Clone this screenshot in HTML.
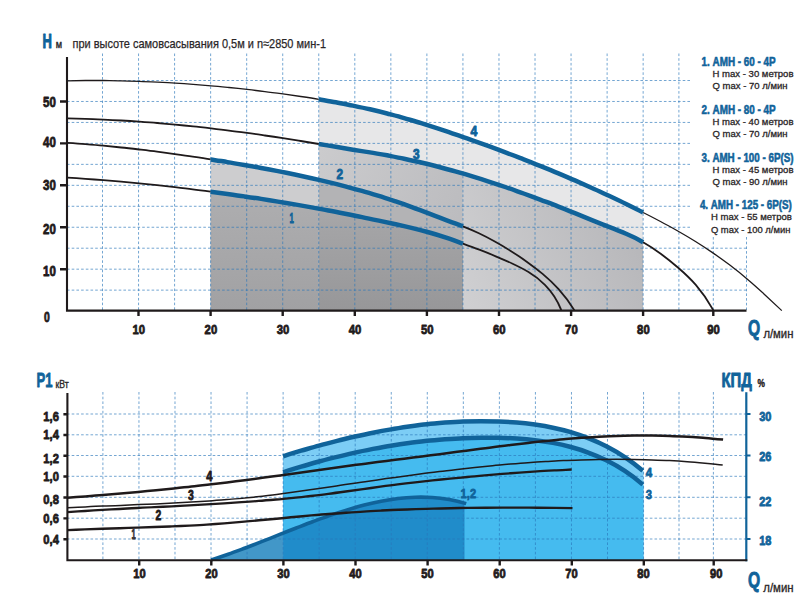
<!DOCTYPE html>
<html><head><meta charset="utf-8"><title>chart</title>
<style>html,body{margin:0;padding:0;background:#fff}svg{display:block}</style>
</head><body>
<svg width="805" height="599" viewBox="0 0 805 599" font-family="'Liberation Sans', sans-serif">
<rect width="805" height="599" fill="#fff"/>
<defs><linearGradient id="gB1" gradientUnits="userSpaceOnUse" x1="0" y1="192" x2="0" y2="310"><stop offset="0" stop-color="#aeaeb0"/><stop offset="1" stop-color="#a1a1a3"/></linearGradient><linearGradient id="gB2" gradientUnits="userSpaceOnUse" x1="0" y1="208" x2="0" y2="310"><stop offset="0" stop-color="#a7a7a9"/><stop offset="1" stop-color="#979799"/></linearGradient><linearGradient id="gC" gradientUnits="userSpaceOnUse" x1="470" y1="310" x2="640" y2="235"><stop offset="0" stop-color="#cfcfd1"/><stop offset="1" stop-color="#b7b7ba"/></linearGradient><linearGradient id="gC0" gradientUnits="userSpaceOnUse" x1="320" y1="150" x2="460" y2="215"><stop offset="0" stop-color="#cbcbcd"/><stop offset="1" stop-color="#bcbcbf"/></linearGradient></defs>
<path d="M318.8 99.3C324.5 100.3 330.1 101.2 335.8 102.3C341.5 103.3 347.2 104.5 352.9 105.6C358.6 106.8 364.3 108.0 370.0 109.3C375.7 110.6 381.4 112.0 387.1 113.5C392.7 115.0 398.4 116.5 404.1 118.1C409.8 119.8 415.5 121.4 421.2 123.2C426.9 125.0 432.6 126.8 438.3 128.6C444.0 130.5 449.7 132.4 455.3 134.4C461.0 136.3 466.7 138.3 472.4 140.3C478.1 142.3 483.8 144.4 489.5 146.4C495.2 148.5 500.9 150.6 506.6 152.8C512.3 154.9 517.9 157.1 523.6 159.3C529.3 161.5 535.0 163.8 540.7 166.1C546.4 168.4 552.1 170.7 557.8 173.1C563.5 175.5 569.2 177.9 574.9 180.4C580.5 182.9 586.2 185.4 591.9 188.0C597.6 190.5 603.3 193.2 609.0 195.8C614.7 198.5 620.4 201.2 626.1 204.0C631.8 206.8 637.5 209.6 643.1 212.5L643.1 310.6 L318.8 310.6 Z" fill="#e7e7e8" />
<path d="M318.8 144.0C324.1 144.9 329.4 145.8 334.8 146.7C340.1 147.6 345.5 148.4 350.8 149.3C356.1 150.2 361.5 151.0 366.8 151.9C372.2 152.8 377.5 153.7 382.8 154.6C388.2 155.5 393.5 156.5 398.9 157.6C404.2 158.7 409.5 159.8 414.9 161.0C420.2 162.2 425.6 163.5 430.9 164.8C436.2 166.2 441.6 167.5 446.9 169.0C452.3 170.5 457.6 172.0 462.9 173.5L462.9 310.6 L318.8 310.6 Z" fill="url(#gC0)" />
<path d="M462.9 173.5C468.4 175.1 473.9 176.8 479.3 178.5C484.8 180.2 490.2 182.0 495.7 183.8C501.2 185.6 506.6 187.5 512.1 189.4C517.5 191.3 523.0 193.3 528.5 195.3C533.9 197.3 539.4 199.3 544.8 201.4C550.3 203.5 555.8 205.6 561.2 207.7C566.7 209.9 572.2 212.1 577.6 214.3C583.1 216.5 588.5 218.7 594.0 220.9C599.5 223.1 604.9 225.3 610.4 227.4C615.8 229.6 621.3 231.7 626.8 234.1C632.2 236.5 637.7 239.1 643.1 242.2L643.1 310.6 L462.9 310.6 Z" fill="url(#gC)" />
<path d="M210.6 159.4C215.8 160.2 220.9 161.0 226.1 161.9C231.2 162.7 236.4 163.6 241.5 164.5C246.7 165.4 251.8 166.3 257.0 167.2C262.1 168.1 267.3 169.1 272.4 170.1C277.6 171.1 282.7 172.1 287.9 173.1C293.0 174.2 298.2 175.2 303.3 176.3C308.5 177.5 313.6 178.6 318.8 179.8L318.8 310.6 L210.6 310.6 Z" fill="#cdcdcf" />
<path d="M318.8 179.8C324.1 181.0 329.4 182.3 334.8 183.6C340.1 185.0 345.5 186.4 350.8 187.8C356.1 189.2 361.5 190.7 366.8 192.3C372.2 193.9 377.5 195.5 382.8 197.2C388.2 198.9 393.5 200.6 398.9 202.4C404.2 204.3 409.5 206.2 414.9 208.2C420.2 210.1 425.6 212.2 430.9 214.4C436.2 216.5 441.6 218.5 446.9 220.5C452.3 222.4 457.6 224.3 462.9 226.4L462.9 310.6 L318.8 310.6 Z" fill="#b3b3b5" />
<path d="M210.6 191.7C215.8 192.3 220.9 193.0 226.1 193.7C231.2 194.5 236.4 195.2 241.5 196.0C246.7 196.7 251.8 197.5 257.0 198.3C262.1 199.1 267.3 199.9 272.4 200.7C277.6 201.5 282.7 202.4 287.9 203.3C293.0 204.1 298.2 205.0 303.3 205.9C308.5 206.8 313.6 207.8 318.8 208.7L318.8 310.6 L210.6 310.6 Z" fill="url(#gB1)" />
<path d="M318.8 208.7C324.1 209.7 329.4 210.7 334.8 211.7C340.1 212.7 345.5 213.8 350.8 214.8C356.1 215.9 361.5 217.0 366.8 218.1C372.2 219.2 377.5 220.3 382.8 221.4C388.2 222.6 393.5 223.7 398.9 224.9C404.2 226.1 409.5 227.3 414.9 228.7C420.2 230.0 425.6 231.4 430.9 232.9C436.2 234.5 441.6 236.1 446.9 237.9C452.3 239.7 457.6 241.7 462.9 243.6L462.9 310.6 L318.8 310.6 Z" fill="url(#gB2)" />
<path d="M283.1 456.3C288.8 454.4 294.6 452.7 300.3 451.0C306.0 449.3 311.7 447.6 317.4 446.0C323.2 444.5 328.9 442.9 334.6 441.5C340.3 440.0 346.1 438.6 351.8 437.3C357.5 436.0 363.2 434.7 368.9 433.5C374.7 432.4 380.4 431.3 386.1 430.2C391.8 429.2 397.5 428.3 403.3 427.4C409.0 426.5 414.7 425.7 420.4 425.0C426.1 424.4 431.9 423.7 437.6 423.2C443.3 422.7 449.0 422.3 454.8 422.0C460.5 421.7 466.2 421.4 471.9 421.3C477.6 421.2 483.4 421.2 489.1 421.2C494.8 421.3 500.5 421.5 506.2 421.8C512.0 422.1 517.7 422.5 523.4 423.1C529.1 423.7 534.8 424.4 540.6 425.4C546.3 426.3 552.0 427.4 557.7 428.7C563.5 430.1 569.2 431.6 574.9 433.5C580.6 435.3 586.3 437.3 592.1 439.7C597.8 442.1 603.5 444.7 609.2 447.8C614.9 450.8 620.7 454.2 626.4 458.1C632.1 462.0 637.8 466.4 643.5 471.3L643.5 560.0 L283.1 560.0 Z" fill="#7ccdf5" />
<path d="M283.1 472.3C288.8 470.4 294.6 468.7 300.3 466.9C306.0 465.2 311.7 463.6 317.4 462.0C323.2 460.4 328.9 458.9 334.6 457.5C340.3 456.0 346.1 454.7 351.8 453.4C357.5 452.1 363.2 450.9 368.9 449.7C374.7 448.6 380.4 447.5 386.1 446.5C391.8 445.6 397.5 444.6 403.3 443.8C409.0 443.0 414.7 442.2 420.4 441.6C426.1 440.9 431.9 440.3 437.6 439.8C443.3 439.3 449.0 438.9 454.8 438.6C460.5 438.2 466.2 438.0 471.9 437.9C477.6 437.7 483.4 437.6 489.1 437.7C494.8 437.7 500.5 437.8 506.2 438.0C512.0 438.2 517.7 438.5 523.4 439.0C529.1 439.5 534.8 440.1 540.6 440.9C546.3 441.7 552.0 442.7 557.7 443.9C563.5 445.1 569.2 446.5 574.9 448.2C580.6 449.8 586.3 451.8 592.1 454.0C597.8 456.2 603.5 458.8 609.2 461.7C614.9 464.7 620.7 468.0 626.4 471.9C632.1 475.8 637.8 480.2 643.5 485.3L643.5 560.0 L283.1 560.0 Z" fill="#45bbef" />
<path d="M211.0 560.0C215.8 558.4 220.6 556.8 225.4 555.2C230.3 553.5 235.1 551.7 239.9 550.0C244.7 548.2 249.5 546.3 254.3 544.5C259.1 542.6 263.9 540.7 268.7 538.8C273.5 536.9 278.3 535.0 283.1 533.1L283.1 560.0 L211.0 560.0 Z" fill="#4297c8" />
<path d="M283.1 533.1C288.6 530.9 294.1 528.8 299.6 526.7C305.1 524.5 310.6 522.4 316.1 520.4C321.6 518.4 327.1 516.4 332.6 514.6C338.1 512.7 343.6 510.9 349.1 509.3C354.6 507.6 360.1 506.1 365.6 504.7C371.1 503.3 376.6 502.1 382.1 501.0C387.6 500.0 393.1 499.1 398.6 498.5C404.1 497.8 409.6 497.4 415.1 497.2C420.6 497.0 426.1 497.1 431.5 497.4C437.0 497.8 442.5 498.4 448.0 499.3C453.5 500.2 459.0 501.5 464.5 503.1L464.5 560.0 L283.1 560.0 Z" fill="#208cca" />
<path d="M102.50 53.5V310.0M102.90 392.0V560.0M138.55 53.5V310.0M138.95 392.0V560.0M174.59 53.5V310.0M174.99 392.0V560.0M210.63 53.5V310.0M211.03 392.0V560.0M246.68 53.5V310.0M247.07 392.0V560.0M282.72 53.5V310.0M283.12 392.0V560.0M318.76 53.5V310.0M319.16 392.0V560.0M354.80 53.5V310.0M355.20 392.0V560.0M390.85 53.5V310.0M391.25 392.0V560.0M426.89 53.5V310.0M427.29 392.0V560.0M462.93 53.5V310.0M463.33 392.0V560.0M498.98 53.5V310.0M499.38 392.0V560.0M535.02 53.5V310.0M535.42 392.0V560.0M571.06 53.5V310.0M571.46 392.0V560.0M607.11 53.5V310.0M607.50 392.0V560.0M643.15 53.5V310.0M643.55 392.0V560.0M678.90 53.5V310.0M679.00 392.0V560.0M713.30 237.0V310.0M713.40 392.0V560.0M746.50 237.0V310.0M67.0 290.14H746.5M67.0 269.18H746.5M67.0 248.21H746.5M67.0 227.25H691.0M67.0 206.29H691.0M67.0 185.33H691.0M67.0 164.36H691.0M67.0 143.40H691.0M67.0 122.44H691.0M67.0 101.48H691.0M67.0 80.51H691.0M67.0 414.00H746.0M67.0 434.80H746.0M67.0 455.50H746.0M67.0 476.30H746.0M67.0 497.30H746.0M67.0 518.20H746.0M67.0 539.00H746.0" fill="none" stroke="#2a76ba" stroke-width="0.8" stroke-dasharray="2.6 2.1" opacity="0.82"/>
<path d="M67.5 80.8C73.5 80.7 79.5 80.6 85.4 80.5C91.4 80.5 97.4 80.5 103.4 80.5C109.4 80.6 115.4 80.6 121.3 80.8C127.3 80.9 133.3 81.1 139.3 81.3C145.3 81.5 151.3 81.8 157.2 82.1C163.2 82.4 169.2 82.7 175.2 83.1C181.2 83.5 187.1 83.9 193.1 84.3C199.1 84.8 205.1 85.3 211.1 85.8C217.1 86.3 223.0 86.9 229.0 87.5C235.0 88.1 241.0 88.8 247.0 89.4C253.0 90.1 258.9 90.8 264.9 91.6C270.9 92.3 276.9 93.1 282.9 93.9C288.8 94.7 294.8 95.6 300.8 96.5C306.8 97.4 312.8 98.3 318.8 99.3" fill="none" stroke="#1f1a1b" stroke-width="1.3" stroke-linecap="butt"/>
<path d="M643.1 212.5C648.9 215.4 654.7 218.4 660.5 221.5C666.3 224.5 672.0 227.7 677.8 231.0C683.6 234.3 689.4 237.7 695.1 241.3C700.9 244.9 706.7 248.7 712.5 252.6C718.3 256.6 724.0 260.7 729.8 265.1C735.6 269.5 741.4 274.1 747.1 279.0C752.9 283.9 758.7 289.1 764.5 294.4C770.2 299.7 776.0 305.1 781.8 310.6" fill="none" stroke="#1f1a1b" stroke-width="1.3" stroke-linecap="butt"/>
<path d="M67.5 118.3C73.5 118.5 79.5 118.6 85.4 118.8C91.4 119.0 97.4 119.3 103.4 119.6C109.4 119.8 115.4 120.1 121.3 120.5C127.3 120.8 133.3 121.2 139.3 121.7C145.3 122.1 151.3 122.5 157.2 123.0C163.2 123.5 169.2 124.1 175.2 124.6C181.2 125.2 187.1 125.8 193.1 126.4C199.1 127.0 205.1 127.7 211.1 128.4C217.1 129.1 223.0 129.8 229.0 130.6C235.0 131.3 241.0 132.1 247.0 132.9C253.0 133.7 258.9 134.6 264.9 135.5C270.9 136.3 276.9 137.2 282.9 138.2C288.8 139.1 294.8 140.1 300.8 141.0C306.8 142.0 312.8 143.0 318.8 144.0" fill="none" stroke="#1f1a1b" stroke-width="1.8" stroke-linecap="butt"/>
<path d="M643.1 242.2C649.0 245.5 654.8 249.4 660.7 253.7C666.5 258.0 672.4 262.7 678.2 267.7C684.1 272.8 689.9 278.1 695.8 284.8C701.6 291.5 707.5 299.5 713.3 310.1" fill="none" stroke="#1f1a1b" stroke-width="1.8" stroke-linecap="butt"/>
<path d="M67.5 142.8C73.5 143.2 79.4 143.6 85.4 144.1C91.4 144.6 97.3 145.1 103.3 145.7C109.2 146.3 115.2 146.9 121.2 147.5C127.1 148.1 133.1 148.8 139.1 149.5C145.0 150.2 151.0 150.9 157.0 151.7C162.9 152.4 168.9 153.2 174.8 154.1C180.8 154.9 186.8 155.7 192.7 156.6C198.7 157.5 204.7 158.4 210.6 159.4" fill="none" stroke="#1f1a1b" stroke-width="1.8" stroke-linecap="butt"/>
<path d="M462.9 226.4C468.2 228.5 473.6 230.8 478.9 233.3C484.2 235.8 489.5 238.6 494.8 241.5C500.1 244.4 505.4 247.6 510.7 250.9C516.1 254.3 521.4 257.8 526.7 261.7C532.0 265.5 537.3 269.5 542.6 273.9C547.9 278.3 553.2 283.3 558.6 289.2C563.9 295.1 569.2 302.0 574.5 310.4" fill="none" stroke="#1f1a1b" stroke-width="1.8" stroke-linecap="butt"/>
<path d="M67.5 177.6C73.5 178.0 79.4 178.4 85.4 178.8C91.4 179.3 97.3 179.7 103.3 180.2C109.2 180.7 115.2 181.2 121.2 181.7C127.1 182.3 133.1 182.8 139.1 183.4C145.0 184.0 151.0 184.6 157.0 185.2C162.9 185.9 168.9 186.5 174.8 187.2C180.8 187.9 186.8 188.6 192.7 189.4C198.7 190.1 204.7 190.9 210.6 191.7" fill="none" stroke="#1f1a1b" stroke-width="1.8" stroke-linecap="butt"/>
<path d="M462.9 243.6C468.4 245.6 473.9 247.6 479.3 249.7C484.8 251.8 490.3 254.0 495.7 256.3C501.2 258.6 506.7 261.0 512.1 263.5C517.6 266.1 523.0 268.7 528.5 272.0C534.0 275.3 539.4 279.3 544.9 284.8C550.4 290.3 555.8 296.1 561.3 310.1" fill="none" stroke="#1f1a1b" stroke-width="1.8" stroke-linecap="butt"/>
<path d="M318.8 99.3C324.5 100.3 330.1 101.2 335.8 102.3C341.5 103.3 347.2 104.5 352.9 105.6C358.6 106.8 364.3 108.0 370.0 109.3C375.7 110.6 381.4 112.0 387.1 113.5C392.7 115.0 398.4 116.5 404.1 118.1C409.8 119.8 415.5 121.4 421.2 123.2C426.9 125.0 432.6 126.8 438.3 128.6C444.0 130.5 449.7 132.4 455.3 134.4C461.0 136.3 466.7 138.3 472.4 140.3C478.1 142.3 483.8 144.4 489.5 146.4C495.2 148.5 500.9 150.6 506.6 152.8C512.3 154.9 517.9 157.1 523.6 159.3C529.3 161.5 535.0 163.8 540.7 166.1C546.4 168.4 552.1 170.7 557.8 173.1C563.5 175.5 569.2 177.9 574.9 180.4C580.5 182.9 586.2 185.4 591.9 188.0C597.6 190.5 603.3 193.2 609.0 195.8C614.7 198.5 620.4 201.2 626.1 204.0C631.8 206.8 637.5 209.6 643.1 212.5" fill="none" stroke="#10639a" stroke-width="4.5" stroke-linecap="butt"/>
<path d="M318.8 144.0C324.5 144.9 330.1 145.9 335.8 146.8C341.5 147.8 347.2 148.7 352.9 149.7C358.6 150.6 364.3 151.5 370.0 152.4C375.7 153.3 381.4 154.3 387.1 155.3C392.7 156.4 398.4 157.5 404.1 158.7C409.8 159.9 415.5 161.1 421.2 162.5C426.9 163.8 432.6 165.2 438.3 166.7C444.0 168.2 449.7 169.7 455.3 171.4C461.0 173.0 466.7 174.6 472.4 176.4C478.1 178.1 483.8 179.9 489.5 181.8C495.2 183.6 500.9 185.5 506.6 187.5C512.3 189.4 517.9 191.5 523.6 193.5C529.3 195.6 535.0 197.7 540.7 199.8C546.4 202.0 552.1 204.1 557.8 206.4C563.5 208.6 569.2 210.9 574.9 213.2C580.5 215.5 586.2 217.8 591.9 220.1C597.6 222.4 603.3 224.7 609.0 226.9C614.7 229.1 620.4 231.3 626.1 233.8C631.8 236.2 637.5 238.9 643.1 242.2" fill="none" stroke="#10639a" stroke-width="4.5" stroke-linecap="butt"/>
<path d="M210.6 159.4C216.2 160.2 221.8 161.2 227.5 162.1C233.1 163.0 238.7 164.0 244.3 165.0C249.9 165.9 255.5 166.9 261.1 168.0C266.7 169.0 272.3 170.1 277.9 171.1C283.5 172.2 289.1 173.4 294.7 174.5C300.3 175.7 305.9 176.9 311.6 178.2C317.2 179.4 322.8 180.7 328.4 182.1C334.0 183.4 339.6 184.8 345.2 186.3C350.8 187.8 356.4 189.3 362.0 190.9C367.6 192.5 373.2 194.2 378.8 195.9C384.4 197.6 390.0 199.5 395.7 201.4C401.3 203.2 406.9 205.2 412.5 207.3C418.1 209.3 423.7 211.5 429.3 213.7C434.9 215.9 440.5 218.1 446.1 220.2C451.7 222.2 457.3 224.2 462.9 226.4" fill="none" stroke="#10639a" stroke-width="4.5" stroke-linecap="butt"/>
<path d="M210.6 191.7C216.2 192.4 221.8 193.2 227.5 193.9C233.1 194.7 238.7 195.5 244.3 196.4C249.9 197.2 255.5 198.0 261.1 198.9C266.7 199.8 272.3 200.7 277.9 201.6C283.5 202.5 289.1 203.5 294.7 204.4C300.3 205.4 305.9 206.4 311.6 207.4C317.2 208.4 322.8 209.4 328.4 210.5C334.0 211.5 339.6 212.6 345.2 213.7C350.8 214.8 356.4 215.9 362.0 217.1C367.6 218.2 373.2 219.4 378.8 220.6C384.4 221.8 390.0 223.0 395.7 224.2C401.3 225.4 406.9 226.7 412.5 228.1C418.1 229.4 423.7 230.9 429.3 232.5C434.9 234.0 440.5 235.8 446.1 237.7C451.7 239.5 457.3 241.6 462.9 243.6" fill="none" stroke="#10639a" stroke-width="4.5" stroke-linecap="butt"/>
<path d="M283.1 456.3C289.1 454.4 295.1 452.5 301.1 450.7C307.1 449.0 313.1 447.2 319.1 445.6C325.1 443.9 331.1 442.4 337.1 440.9C343.1 439.3 349.1 437.9 355.1 436.5C361.0 435.2 367.0 433.9 373.0 432.7C379.0 431.5 385.0 430.4 391.0 429.4C397.0 428.3 403.0 427.4 409.0 426.5C415.0 425.7 421.0 424.9 427.0 424.3C433.0 423.6 439.0 423.1 445.0 422.6C451.0 422.2 457.0 421.8 463.0 421.6C469.0 421.3 474.9 421.2 480.9 421.2C486.9 421.2 492.9 421.3 498.9 421.5C504.9 421.7 510.9 422.0 516.9 422.5C522.9 423.0 528.9 423.7 534.9 424.5C540.9 425.4 546.9 426.4 552.9 427.7C558.9 428.9 564.9 430.4 570.9 432.2C576.9 434.0 582.9 436.1 588.8 438.4C594.8 440.8 600.8 443.4 606.8 446.5C612.8 449.6 618.8 453.1 624.8 457.1C630.8 461.1 636.8 465.6 642.8 470.7" fill="none" stroke="#10639a" stroke-width="4.5" stroke-linecap="butt"/>
<path d="M283.1 472.3C289.1 470.4 295.1 468.5 301.1 466.7C307.1 464.9 313.1 463.2 319.1 461.5C325.1 459.9 331.1 458.3 337.1 456.9C343.1 455.4 349.1 454.0 355.1 452.6C361.0 451.3 367.0 450.1 373.0 448.9C379.0 447.8 385.0 446.7 391.0 445.7C397.0 444.7 403.0 443.8 409.0 443.0C415.0 442.2 421.0 441.5 427.0 440.8C433.0 440.2 439.0 439.7 445.0 439.2C451.0 438.8 457.0 438.4 463.0 438.2C469.0 437.9 474.9 437.7 480.9 437.7C486.9 437.6 492.9 437.7 498.9 437.8C504.9 437.9 510.9 438.2 516.9 438.5C522.9 438.9 528.9 439.4 534.9 440.2C540.9 440.9 546.9 441.8 552.9 442.9C558.9 444.0 564.9 445.4 570.9 447.0C576.9 448.6 582.9 450.5 588.8 452.8C594.8 455.0 600.8 457.5 606.8 460.5C612.8 463.5 618.8 466.9 624.8 470.9C630.8 474.8 636.8 479.4 642.8 484.6" fill="none" stroke="#10639a" stroke-width="4.5" stroke-linecap="butt"/>
<path d="M211.2 559.9C216.9 558.1 222.5 556.2 228.2 554.2C233.9 552.2 239.5 550.1 245.2 548.0C250.9 545.8 256.5 543.6 262.2 541.4C267.9 539.2 273.5 536.9 279.2 534.7C284.9 532.4 290.5 530.2 296.2 528.0C301.9 525.8 307.5 523.6 313.2 521.5C318.9 519.4 324.5 517.3 330.2 515.4C335.9 513.4 341.5 511.6 347.2 509.9C352.9 508.1 358.5 506.5 364.2 505.1C369.9 503.6 375.5 502.3 381.2 501.2C386.9 500.1 392.5 499.2 398.2 498.5C403.9 497.8 409.5 497.4 415.2 497.2C420.9 497.0 426.5 497.1 432.2 497.5C437.9 497.8 443.5 498.5 449.2 499.5C454.9 500.5 460.5 501.9 466.2 503.6" fill="none" stroke="#10639a" stroke-width="3.6" stroke-linecap="butt"/>
<path d="M67.5 497.7C73.4 497.3 79.3 496.8 85.2 496.4C91.1 495.9 97.0 495.4 102.9 495.0C108.8 494.5 114.8 494.0 120.7 493.5C126.6 493.0 132.5 492.4 138.4 491.9C144.3 491.3 150.2 490.8 156.1 490.2C162.0 489.6 167.9 489.0 173.8 488.4C179.7 487.8 185.6 487.2 191.5 486.5C197.4 485.9 203.3 485.2 209.3 484.5C215.2 483.8 221.1 483.1 227.0 482.4C232.9 481.7 238.8 480.9 244.7 480.2C250.6 479.4 256.5 478.6 262.4 477.8C268.3 477.0 274.2 476.2 280.1 475.4C286.0 474.6 291.9 473.7 297.8 472.9C303.8 472.1 309.7 471.2 315.6 470.4C321.5 469.6 327.4 468.7 333.3 467.9C339.2 467.1 345.1 466.3 351.0 465.5C356.9 464.7 362.8 463.9 368.7 463.2C374.6 462.4 380.5 461.7 386.4 460.9C392.3 460.2 398.3 459.4 404.2 458.7C410.1 457.9 416.0 457.2 421.9 456.4C427.8 455.7 433.7 454.9 439.6 454.2C445.5 453.4 451.4 452.6 457.3 451.8C463.2 451.0 469.1 450.3 475.0 449.5C480.9 448.7 486.8 447.9 492.8 447.2C498.7 446.4 504.6 445.7 510.5 445.0C516.4 444.2 522.3 443.5 528.2 442.9C534.1 442.2 540.0 441.6 545.9 441.0C551.8 440.4 557.7 439.8 563.6 439.3C569.5 438.7 575.4 438.3 581.3 437.8C587.3 437.4 593.2 437.0 599.1 436.7C605.0 436.4 610.9 436.1 616.8 435.9C622.7 435.7 628.6 435.6 634.5 435.5C640.4 435.4 646.3 435.4 652.2 435.5C658.1 435.6 664.0 435.7 669.9 435.9C675.8 436.1 681.8 436.4 687.7 436.7C693.6 437.0 699.5 437.5 705.4 437.9C711.3 438.4 717.2 439.0 723.1 439.6" fill="none" stroke="#1f1a1b" stroke-width="2.5" stroke-linecap="butt"/>
<path d="M67.5 507.7C73.4 507.4 79.3 507.1 85.2 506.9C91.1 506.6 97.0 506.3 102.9 506.1C108.8 505.8 114.7 505.6 120.6 505.4C126.5 505.1 132.4 504.9 138.3 504.6C144.2 504.4 150.1 504.1 156.0 503.9C161.9 503.6 167.8 503.3 173.7 503.0C179.7 502.7 185.6 502.4 191.5 502.1C197.4 501.7 203.3 501.4 209.2 501.0C215.1 500.6 221.0 500.1 226.9 499.6C232.8 499.2 238.7 498.6 244.6 498.1C250.5 497.5 256.4 496.8 262.3 496.2C268.2 495.5 274.1 494.8 280.0 494.0C285.9 493.2 291.8 492.4 297.7 491.6C303.6 490.8 309.5 489.9 315.4 489.1C321.3 488.2 327.2 487.3 333.1 486.4C339.0 485.6 344.9 484.7 350.8 483.8C356.7 482.9 362.6 482.0 368.5 481.2C374.4 480.3 380.3 479.5 386.2 478.6C392.1 477.8 398.1 477.0 404.0 476.2C409.9 475.4 415.8 474.6 421.7 473.8C427.6 473.0 433.5 472.3 439.4 471.6C445.3 470.8 451.2 470.1 457.1 469.4C463.0 468.8 468.9 468.1 474.8 467.5C480.7 466.9 486.6 466.3 492.5 465.7C498.4 465.1 504.3 464.6 510.2 464.1C516.1 463.6 522.0 463.1 527.9 462.7C533.8 462.3 539.7 461.9 545.6 461.5C551.5 461.2 557.4 460.8 563.3 460.6C569.2 460.3 575.1 460.1 581.0 459.9C586.9 459.7 592.8 459.5 598.7 459.4C604.6 459.3 610.5 459.3 616.5 459.3C622.4 459.3 628.3 459.3 634.2 459.4C640.1 459.5 646.0 459.6 651.9 459.9C657.8 460.1 663.7 460.3 669.6 460.6C675.5 460.9 681.4 461.3 687.3 461.8C693.2 462.2 699.1 462.7 705.0 463.2C710.9 463.8 716.8 464.4 722.7 465.1" fill="none" stroke="#1f1a1b" stroke-width="1.5" stroke-linecap="butt"/>
<path d="M67.5 512.2C73.3 511.8 79.1 511.4 84.9 511.0C90.7 510.6 96.5 510.3 102.3 509.9C108.1 509.6 113.9 509.3 119.7 509.0C125.5 508.6 131.2 508.3 137.0 508.0C142.8 507.7 148.6 507.4 154.4 507.2C160.2 506.9 166.0 506.6 171.8 506.3C177.6 506.0 183.4 505.7 189.2 505.4C195.0 505.1 200.8 504.7 206.6 504.4C212.4 504.1 218.2 503.7 224.0 503.4C229.8 503.0 235.6 502.6 241.4 502.2C247.2 501.8 253.0 501.4 258.7 500.9C264.5 500.5 270.3 500.0 276.1 499.5C281.9 499.0 287.7 498.4 293.5 497.8C299.3 497.3 305.1 496.6 310.9 496.0C316.7 495.3 322.5 494.6 328.3 493.8C334.1 493.1 339.9 492.3 345.7 491.5C351.5 490.7 357.3 489.9 363.1 489.1C368.9 488.3 374.7 487.5 380.5 486.7C386.2 485.9 392.0 485.1 397.8 484.4C403.6 483.7 409.4 483.0 415.2 482.3C421.0 481.7 426.8 481.0 432.6 480.4C438.4 479.8 444.2 479.2 450.0 478.6C455.8 478.1 461.6 477.5 467.4 477.0C473.2 476.4 479.0 475.9 484.8 475.4C490.6 474.9 496.4 474.4 502.2 473.9C508.0 473.5 513.7 473.0 519.5 472.6C525.3 472.2 531.1 471.8 536.9 471.4C542.7 471.0 548.5 470.7 554.3 470.4C560.1 470.0 565.9 469.8 571.7 469.5" fill="none" stroke="#1f1a1b" stroke-width="2.3" stroke-linecap="butt"/>
<path d="M67.5 530.1C73.3 529.9 79.1 529.6 84.9 529.4C90.7 529.2 96.5 529.0 102.3 528.8C108.1 528.6 113.9 528.4 119.7 528.2C125.5 528.0 131.4 527.8 137.2 527.6C143.0 527.4 148.8 527.2 154.6 527.0C160.4 526.8 166.2 526.6 172.0 526.4C177.8 526.1 183.6 525.9 189.4 525.6C195.2 525.3 201.0 525.0 206.8 524.6C212.6 524.2 218.4 523.8 224.2 523.4C230.0 522.9 235.8 522.4 241.6 521.9C247.4 521.4 253.2 520.9 259.1 520.3C264.9 519.8 270.7 519.2 276.5 518.7C282.3 518.1 288.1 517.5 293.9 517.0C299.7 516.5 305.5 515.9 311.3 515.4C317.1 514.9 322.9 514.4 328.7 514.0C334.5 513.5 340.3 513.1 346.1 512.7C351.9 512.3 357.7 511.9 363.5 511.6C369.3 511.2 375.1 510.9 380.9 510.6C386.8 510.3 392.6 510.0 398.4 509.8C404.2 509.6 410.0 509.3 415.8 509.1C421.6 508.9 427.4 508.7 433.2 508.6C439.0 508.4 444.8 508.3 450.6 508.2C456.4 508.1 462.2 508.0 468.0 507.9C473.8 507.8 479.6 507.7 485.4 507.7C491.2 507.6 497.0 507.6 502.8 507.6C508.6 507.6 514.5 507.6 520.3 507.6C526.1 507.6 531.9 507.7 537.7 507.7C543.5 507.7 549.3 507.8 555.1 507.9C560.9 507.9 566.7 508.0 572.5 508.1" fill="none" stroke="#1f1a1b" stroke-width="2.4" stroke-linecap="butt"/>
<path d="M746.3 392.2V561.3" fill="none" stroke="#10639a" stroke-width="2.2"/>
<path d="M67 57V310.6H746.5" fill="none" stroke="#1f1a1b" stroke-width="2.1"/>
<path d="M67.4 393V560.3H747.3" fill="none" stroke="#1f1a1b" stroke-width="2.1"/>
<path d="M60 269.2H67M60 227.3H67M60 185.3H67M60 143.4H67M60 101.5H67M138.5 310V316M139.2 560V565.5M210.6 310V316M211.3 560V565.5M282.7 310V316M283.4 560V565.5M354.8 310V316M355.5 560V565.5M426.9 310V316M427.6 560V565.5M499.0 310V316M499.7 560V565.5M571.1 310V316M571.8 560V565.5M643.1 310V316M643.8 560V565.5M713.3 310V316M713.7 560V565.5M63.4 414.2H67M63.4 435.0H67M63.4 455.7H67M63.4 476.5H67M63.4 497.5H67M63.4 518.4H67M63.4 539.2H67" fill="none" stroke="#1f1a1b" stroke-width="2.4"/>
<path d="M746 414.0H750.5M746 455.5H750.5M746 497.3H750.5M746 539.0H750.5" fill="none" stroke="#10639a" stroke-width="2"/>
<text x="42.4" y="47.8" font-size="19.8" font-weight="bold" fill="#10639a" text-anchor="start" textLength="9.4" lengthAdjust="spacingAndGlyphs" stroke="#10639a" stroke-width="1.0" stroke-linejoin="round">Н</text>
<text x="55.8" y="47.7" font-size="10.5" font-weight="normal" fill="#2a2627" text-anchor="start" textLength="6.3" lengthAdjust="spacingAndGlyphs" stroke="#2a2627" stroke-width="0.4">м</text>
<text x="72.5" y="47.7" font-size="12.8" font-weight="normal" fill="#2a2627" text-anchor="start" textLength="253.5" lengthAdjust="spacingAndGlyphs" stroke="#2a2627" stroke-width="0.25">при высоте самовсасывания 0,5м и n≈2850 мин-1</text>
<text x="43.0" y="107.3" font-size="14" font-weight="bold" fill="#1f1a1b" text-anchor="start" textLength="12.8" lengthAdjust="spacingAndGlyphs" stroke="#1f1a1b" stroke-width="0.8" stroke-linejoin="round">50</text>
<text x="43.0" y="147.4" font-size="14" font-weight="bold" fill="#1f1a1b" text-anchor="start" textLength="12.8" lengthAdjust="spacingAndGlyphs" stroke="#1f1a1b" stroke-width="0.8" stroke-linejoin="round">40</text>
<text x="43.0" y="190.4" font-size="14" font-weight="bold" fill="#1f1a1b" text-anchor="start" textLength="12.8" lengthAdjust="spacingAndGlyphs" stroke="#1f1a1b" stroke-width="0.8" stroke-linejoin="round">30</text>
<text x="43.0" y="233.7" font-size="14" font-weight="bold" fill="#1f1a1b" text-anchor="start" textLength="12.8" lengthAdjust="spacingAndGlyphs" stroke="#1f1a1b" stroke-width="0.8" stroke-linejoin="round">20</text>
<text x="43.0" y="275.7" font-size="14" font-weight="bold" fill="#1f1a1b" text-anchor="start" textLength="12.8" lengthAdjust="spacingAndGlyphs" stroke="#1f1a1b" stroke-width="0.8" stroke-linejoin="round">10</text>
<text x="44.0" y="321.6" font-size="13.8" font-weight="bold" fill="#1f1a1b" text-anchor="start" textLength="5.8" lengthAdjust="spacingAndGlyphs" stroke="#1f1a1b" stroke-width="0.8" stroke-linejoin="round">0</text>
<text x="132.5" y="333.8" font-size="13.5" font-weight="bold" fill="#1f1a1b" text-anchor="start" textLength="12.6" lengthAdjust="spacingAndGlyphs" stroke="#1f1a1b" stroke-width="0.8" stroke-linejoin="round">10</text>
<text x="133.2" y="578.4" font-size="13" font-weight="bold" fill="#1f1a1b" text-anchor="start" textLength="12.4" lengthAdjust="spacingAndGlyphs" stroke="#1f1a1b" stroke-width="0.8" stroke-linejoin="round">10</text>
<text x="204.6" y="333.8" font-size="13.5" font-weight="bold" fill="#1f1a1b" text-anchor="start" textLength="12.6" lengthAdjust="spacingAndGlyphs" stroke="#1f1a1b" stroke-width="0.8" stroke-linejoin="round">20</text>
<text x="205.2" y="578.4" font-size="13" font-weight="bold" fill="#1f1a1b" text-anchor="start" textLength="12.4" lengthAdjust="spacingAndGlyphs" stroke="#1f1a1b" stroke-width="0.8" stroke-linejoin="round">20</text>
<text x="276.7" y="333.8" font-size="13.5" font-weight="bold" fill="#1f1a1b" text-anchor="start" textLength="12.6" lengthAdjust="spacingAndGlyphs" stroke="#1f1a1b" stroke-width="0.8" stroke-linejoin="round">30</text>
<text x="277.2" y="578.4" font-size="13" font-weight="bold" fill="#1f1a1b" text-anchor="start" textLength="12.4" lengthAdjust="spacingAndGlyphs" stroke="#1f1a1b" stroke-width="0.8" stroke-linejoin="round">30</text>
<text x="348.8" y="333.8" font-size="13.5" font-weight="bold" fill="#1f1a1b" text-anchor="start" textLength="12.6" lengthAdjust="spacingAndGlyphs" stroke="#1f1a1b" stroke-width="0.8" stroke-linejoin="round">40</text>
<text x="349.2" y="578.4" font-size="13" font-weight="bold" fill="#1f1a1b" text-anchor="start" textLength="12.4" lengthAdjust="spacingAndGlyphs" stroke="#1f1a1b" stroke-width="0.8" stroke-linejoin="round">40</text>
<text x="420.9" y="333.8" font-size="13.5" font-weight="bold" fill="#1f1a1b" text-anchor="start" textLength="12.6" lengthAdjust="spacingAndGlyphs" stroke="#1f1a1b" stroke-width="0.8" stroke-linejoin="round">50</text>
<text x="421.2" y="578.4" font-size="13" font-weight="bold" fill="#1f1a1b" text-anchor="start" textLength="12.4" lengthAdjust="spacingAndGlyphs" stroke="#1f1a1b" stroke-width="0.8" stroke-linejoin="round">50</text>
<text x="493.0" y="333.8" font-size="13.5" font-weight="bold" fill="#1f1a1b" text-anchor="start" textLength="12.6" lengthAdjust="spacingAndGlyphs" stroke="#1f1a1b" stroke-width="0.8" stroke-linejoin="round">60</text>
<text x="493.2" y="578.4" font-size="13" font-weight="bold" fill="#1f1a1b" text-anchor="start" textLength="12.4" lengthAdjust="spacingAndGlyphs" stroke="#1f1a1b" stroke-width="0.8" stroke-linejoin="round">60</text>
<text x="565.1" y="333.8" font-size="13.5" font-weight="bold" fill="#1f1a1b" text-anchor="start" textLength="12.6" lengthAdjust="spacingAndGlyphs" stroke="#1f1a1b" stroke-width="0.8" stroke-linejoin="round">70</text>
<text x="565.2" y="578.4" font-size="13" font-weight="bold" fill="#1f1a1b" text-anchor="start" textLength="12.4" lengthAdjust="spacingAndGlyphs" stroke="#1f1a1b" stroke-width="0.8" stroke-linejoin="round">70</text>
<text x="637.1" y="333.8" font-size="13.5" font-weight="bold" fill="#1f1a1b" text-anchor="start" textLength="12.6" lengthAdjust="spacingAndGlyphs" stroke="#1f1a1b" stroke-width="0.8" stroke-linejoin="round">80</text>
<text x="637.2" y="578.4" font-size="13" font-weight="bold" fill="#1f1a1b" text-anchor="start" textLength="12.4" lengthAdjust="spacingAndGlyphs" stroke="#1f1a1b" stroke-width="0.8" stroke-linejoin="round">80</text>
<text x="707.3" y="333.8" font-size="13.5" font-weight="bold" fill="#1f1a1b" text-anchor="start" textLength="12.6" lengthAdjust="spacingAndGlyphs" stroke="#1f1a1b" stroke-width="0.8" stroke-linejoin="round">90</text>
<text x="710.1" y="578.4" font-size="13" font-weight="bold" fill="#1f1a1b" text-anchor="start" textLength="12.4" lengthAdjust="spacingAndGlyphs" stroke="#1f1a1b" stroke-width="0.8" stroke-linejoin="round">90</text>
<text x="43.3" y="420.6" font-size="13.4" font-weight="bold" fill="#1f1a1b" text-anchor="start" textLength="15.6" lengthAdjust="spacingAndGlyphs" stroke="#1f1a1b" stroke-width="0.8" stroke-linejoin="round">1,6</text>
<text x="43.3" y="439.4" font-size="13.4" font-weight="bold" fill="#1f1a1b" text-anchor="start" textLength="15.6" lengthAdjust="spacingAndGlyphs" stroke="#1f1a1b" stroke-width="0.8" stroke-linejoin="round">1,4</text>
<text x="43.3" y="463.3" font-size="13.4" font-weight="bold" fill="#1f1a1b" text-anchor="start" textLength="15.6" lengthAdjust="spacingAndGlyphs" stroke="#1f1a1b" stroke-width="0.8" stroke-linejoin="round">1,2</text>
<text x="43.3" y="481.4" font-size="13.4" font-weight="bold" fill="#1f1a1b" text-anchor="start" textLength="15.6" lengthAdjust="spacingAndGlyphs" stroke="#1f1a1b" stroke-width="0.8" stroke-linejoin="round">1,0</text>
<text x="43.3" y="504.4" font-size="13.4" font-weight="bold" fill="#1f1a1b" text-anchor="start" textLength="15.6" lengthAdjust="spacingAndGlyphs" stroke="#1f1a1b" stroke-width="0.8" stroke-linejoin="round">0,8</text>
<text x="43.3" y="523.2" font-size="13.4" font-weight="bold" fill="#1f1a1b" text-anchor="start" textLength="15.6" lengthAdjust="spacingAndGlyphs" stroke="#1f1a1b" stroke-width="0.8" stroke-linejoin="round">0,6</text>
<text x="43.3" y="544.3" font-size="13.4" font-weight="bold" fill="#1f1a1b" text-anchor="start" textLength="15.6" lengthAdjust="spacingAndGlyphs" stroke="#1f1a1b" stroke-width="0.8" stroke-linejoin="round">0,4</text>
<text x="759.2" y="420.5" font-size="13.2" font-weight="bold" fill="#10639a" text-anchor="start" textLength="12.2" lengthAdjust="spacingAndGlyphs" stroke="#10639a" stroke-width="0.8" stroke-linejoin="round">30</text>
<text x="759.2" y="461.0" font-size="13.2" font-weight="bold" fill="#10639a" text-anchor="start" textLength="12.2" lengthAdjust="spacingAndGlyphs" stroke="#10639a" stroke-width="0.8" stroke-linejoin="round">26</text>
<text x="759.2" y="506.0" font-size="13.2" font-weight="bold" fill="#10639a" text-anchor="start" textLength="12.2" lengthAdjust="spacingAndGlyphs" stroke="#10639a" stroke-width="0.8" stroke-linejoin="round">22</text>
<text x="759.2" y="545.4" font-size="13.2" font-weight="bold" fill="#10639a" text-anchor="start" textLength="12.2" lengthAdjust="spacingAndGlyphs" stroke="#10639a" stroke-width="0.8" stroke-linejoin="round">18</text>
<text x="747.9" y="334.9" font-size="22.5" font-weight="bold" fill="#10639a" text-anchor="start" textLength="12.2" lengthAdjust="spacingAndGlyphs" stroke="#10639a" stroke-width="0.9" stroke-linejoin="round">Q</text>
<text x="763.4" y="338.2" font-size="12.8" font-weight="normal" fill="#2a2627" text-anchor="start" textLength="30.0" lengthAdjust="spacingAndGlyphs" stroke="#2a2627" stroke-width="0.35">л/мин</text>
<text x="747.9" y="587.4" font-size="22.5" font-weight="bold" fill="#10639a" text-anchor="start" textLength="12.2" lengthAdjust="spacingAndGlyphs" stroke="#10639a" stroke-width="0.9" stroke-linejoin="round">Q</text>
<text x="763.3" y="591.5" font-size="12.8" font-weight="normal" fill="#2a2627" text-anchor="start" textLength="30.3" lengthAdjust="spacingAndGlyphs" stroke="#2a2627" stroke-width="0.35">л/мин</text>
<text x="36.6" y="387.3" font-size="20.2" font-weight="bold" fill="#10639a" text-anchor="start" textLength="16.0" lengthAdjust="spacingAndGlyphs" stroke="#10639a" stroke-width="0.8" stroke-linejoin="round">P1</text>
<text x="55.6" y="387.5" font-size="10.3" font-weight="normal" fill="#2a2627" text-anchor="start" textLength="13.2" lengthAdjust="spacingAndGlyphs" stroke="#2a2627" stroke-width="0.35">кВт</text>
<text x="721.5" y="386.5" font-size="20.3" font-weight="bold" fill="#10639a" text-anchor="start" textLength="30.4" lengthAdjust="spacingAndGlyphs" stroke="#10639a" stroke-width="0.9" stroke-linejoin="round">КПД</text>
<text x="757.5" y="386.9" font-size="11.5" font-weight="bold" fill="#1f1a1b" text-anchor="start" textLength="7.4" lengthAdjust="spacingAndGlyphs" stroke="#1f1a1b" stroke-width="0.45" stroke-linejoin="round">%</text>
<text x="289.5" y="223.2" font-size="14" font-weight="bold" fill="#10639a" text-anchor="start" textLength="4.3" lengthAdjust="spacingAndGlyphs" stroke="#10639a" stroke-width="0.9" stroke-linejoin="round">1</text>
<text x="336.6" y="179.4" font-size="14" font-weight="bold" fill="#10639a" text-anchor="start" textLength="6.6" lengthAdjust="spacingAndGlyphs" stroke="#10639a" stroke-width="0.9" stroke-linejoin="round">2</text>
<text x="412.9" y="158.9" font-size="14" font-weight="bold" fill="#10639a" text-anchor="start" textLength="6.6" lengthAdjust="spacingAndGlyphs" stroke="#10639a" stroke-width="0.9" stroke-linejoin="round">3</text>
<text x="470.4" y="135.8" font-size="14" font-weight="bold" fill="#10639a" text-anchor="start" textLength="6.8" lengthAdjust="spacingAndGlyphs" stroke="#10639a" stroke-width="0.9" stroke-linejoin="round">4</text>
<text x="131.6" y="538.9" font-size="13.8" font-weight="bold" fill="#3a3637" text-anchor="start" textLength="4.2" lengthAdjust="spacingAndGlyphs" stroke="#3a3637" stroke-width="0.8" stroke-linejoin="round">1</text>
<text x="155.5" y="519.9" font-size="13.8" font-weight="bold" fill="#1f1a1b" text-anchor="start" textLength="5.8" lengthAdjust="spacingAndGlyphs" stroke="#1f1a1b" stroke-width="0.8" stroke-linejoin="round">2</text>
<text x="188.0" y="499.5" font-size="13.8" font-weight="bold" fill="#1f1a1b" text-anchor="start" textLength="5.8" lengthAdjust="spacingAndGlyphs" stroke="#1f1a1b" stroke-width="0.8" stroke-linejoin="round">3</text>
<text x="206.2" y="481.3" font-size="13.8" font-weight="bold" fill="#1f1a1b" text-anchor="start" textLength="6.2" lengthAdjust="spacingAndGlyphs" stroke="#1f1a1b" stroke-width="0.8" stroke-linejoin="round">4</text>
<text x="460.6" y="498.4" font-size="13.5" font-weight="bold" fill="#10639a" text-anchor="start" textLength="15.5" lengthAdjust="spacingAndGlyphs" stroke="#10639a" stroke-width="0.8" stroke-linejoin="round">1,2</text>
<text x="645.8" y="477.1" font-size="13.5" font-weight="bold" fill="#10639a" text-anchor="start" textLength="6.4" lengthAdjust="spacingAndGlyphs" stroke="#10639a" stroke-width="0.8" stroke-linejoin="round">4</text>
<text x="645.8" y="498.5" font-size="13.5" font-weight="bold" fill="#10639a" text-anchor="start" textLength="6.2" lengthAdjust="spacingAndGlyphs" stroke="#10639a" stroke-width="0.8" stroke-linejoin="round">3</text>
<text x="701.5" y="65.6" font-size="12" font-weight="bold" fill="#10639a" text-anchor="start" textLength="74.2" lengthAdjust="spacingAndGlyphs" stroke="#10639a" stroke-width="0.55" stroke-linejoin="round">1. АМН - 60 - 4P</text>
<text x="712.5" y="76.6" font-size="9.4" font-weight="normal" fill="#2a2627" text-anchor="start" textLength="81.0" lengthAdjust="spacingAndGlyphs" stroke="#2a2627" stroke-width="0.3">H max - 30 метров</text>
<text x="712.5" y="89.2" font-size="9.4" font-weight="normal" fill="#2a2627" text-anchor="start" textLength="75.0" lengthAdjust="spacingAndGlyphs" stroke="#2a2627" stroke-width="0.3">Q max - 70 л/мин</text>
<text x="701.5" y="113.5" font-size="12" font-weight="bold" fill="#10639a" text-anchor="start" textLength="74.2" lengthAdjust="spacingAndGlyphs" stroke="#10639a" stroke-width="0.55" stroke-linejoin="round">2. АМН - 80 - 4P</text>
<text x="712.5" y="124.5" font-size="9.4" font-weight="normal" fill="#2a2627" text-anchor="start" textLength="81.0" lengthAdjust="spacingAndGlyphs" stroke="#2a2627" stroke-width="0.3">H max - 40 метров</text>
<text x="712.5" y="137.1" font-size="9.4" font-weight="normal" fill="#2a2627" text-anchor="start" textLength="75.0" lengthAdjust="spacingAndGlyphs" stroke="#2a2627" stroke-width="0.3">Q max - 70 л/мин</text>
<text x="701.5" y="161.5" font-size="12" font-weight="bold" fill="#10639a" text-anchor="start" textLength="92.0" lengthAdjust="spacingAndGlyphs" stroke="#10639a" stroke-width="0.55" stroke-linejoin="round">3. АМН - 100 - 6P(S)</text>
<text x="712.5" y="172.5" font-size="9.4" font-weight="normal" fill="#2a2627" text-anchor="start" textLength="81.0" lengthAdjust="spacingAndGlyphs" stroke="#2a2627" stroke-width="0.3">H max - 45 метров</text>
<text x="712.5" y="185.1" font-size="9.4" font-weight="normal" fill="#2a2627" text-anchor="start" textLength="75.0" lengthAdjust="spacingAndGlyphs" stroke="#2a2627" stroke-width="0.3">Q max - 90 л/мин</text>
<text x="699.9" y="209.0" font-size="12" font-weight="bold" fill="#10639a" text-anchor="start" textLength="92.0" lengthAdjust="spacingAndGlyphs" stroke="#10639a" stroke-width="0.55" stroke-linejoin="round">4. АМН - 125 - 6P(S)</text>
<text x="710.9" y="220.0" font-size="9.4" font-weight="normal" fill="#2a2627" text-anchor="start" textLength="81.0" lengthAdjust="spacingAndGlyphs" stroke="#2a2627" stroke-width="0.3">H max - 55 метров</text>
<text x="710.9" y="232.6" font-size="9.4" font-weight="normal" fill="#2a2627" text-anchor="start" textLength="79.5" lengthAdjust="spacingAndGlyphs" stroke="#2a2627" stroke-width="0.3">Q max - 100 л/мин</text>
</svg>
</body></html>
